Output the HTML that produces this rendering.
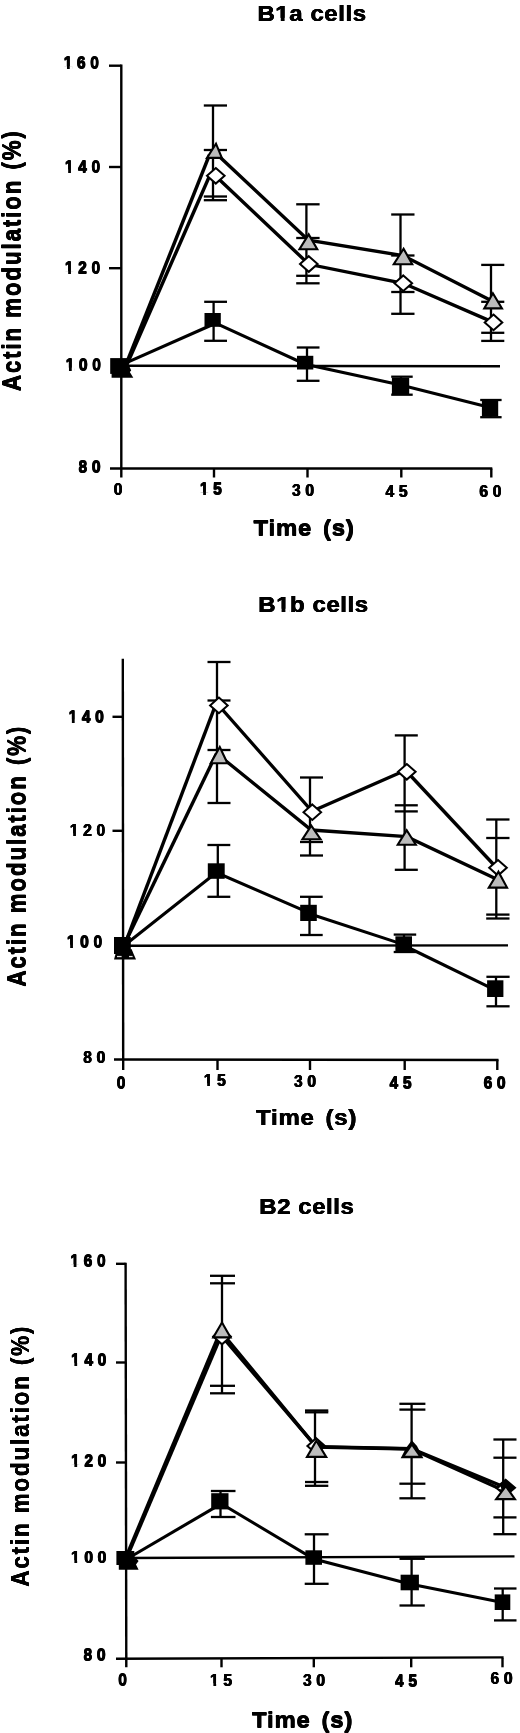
<!DOCTYPE html>
<html><head><meta charset="utf-8"><title>Actin modulation</title>
<style>
html,body{margin:0;padding:0;background:#fff;}
body{width:520px;height:1733px;overflow:hidden;}
svg{display:block;}
svg text{font-family:"Liberation Sans",sans-serif;font-weight:bold;fill:#000;}
</style></head>
<body>
<svg width="520" height="1733" viewBox="0 0 520 1733">
<defs><filter id="soft" x="0" y="0" width="520" height="1733" filterUnits="userSpaceOnUse"><feGaussianBlur stdDeviation="0.5"/></filter></defs>
<rect width="520" height="1733" fill="#fff"/>
<g filter="url(#soft)">
<text transform="translate(257.24,20.84) scale(1,0.91)" font-size="24" dx="0 0.55 0.55 0.55 0.55 0.55 0.55 0.55 0.55">B1a cells</text>
<text transform="translate(257.76,20.84) scale(1,0.91)" font-size="24" dx="0 0.55 0.55 0.55 0.55 0.55 0.55 0.55 0.55">B1a cells</text>
<text transform="translate(257.24,21.36) scale(1,0.91)" font-size="24" dx="0 0.55 0.55 0.55 0.55 0.55 0.55 0.55 0.55">B1a cells</text>
<text transform="translate(257.76,21.36) scale(1,0.91)" font-size="24" dx="0 0.55 0.55 0.55 0.55 0.55 0.55 0.55 0.55">B1a cells</text>
<rect x="276.03" y="17.91" width="4.74" height="4.15" fill="#fff"/>
<rect x="284.60" y="17.91" width="4.39" height="4.15" fill="#fff"/>
<text transform="translate(20.46,391.06) rotate(-90) scale(1,1.17)" font-size="22.5" dx="0 1.8 1.8 1.8 1.8 1.8 1.8 1.8 1.8 1.8 1.8 1.8 1.8 1.8 1.8 1.8 1.8 2.8 1.8 1.8">Actin modulation (%)</text>
<text transform="translate(20.74,391.06) rotate(-90) scale(1,1.17)" font-size="22.5" dx="0 1.8 1.8 1.8 1.8 1.8 1.8 1.8 1.8 1.8 1.8 1.8 1.8 1.8 1.8 1.8 1.8 2.8 1.8 1.8">Actin modulation (%)</text>
<text transform="translate(20.46,391.34) rotate(-90) scale(1,1.17)" font-size="22.5" dx="0 1.8 1.8 1.8 1.8 1.8 1.8 1.8 1.8 1.8 1.8 1.8 1.8 1.8 1.8 1.8 1.8 2.8 1.8 1.8">Actin modulation (%)</text>
<text transform="translate(20.74,391.34) rotate(-90) scale(1,1.17)" font-size="22.5" dx="0 1.8 1.8 1.8 1.8 1.8 1.8 1.8 1.8 1.8 1.8 1.8 1.8 1.8 1.8 1.8 1.8 2.8 1.8 1.8">Actin modulation (%)</text>
<text transform="translate(253.24,535.24) scale(1,0.91)" font-size="24" dx="0 0.78 0.78 0.78 0.78 4.08 0.78 0.78">Time (s)</text>
<text transform="translate(253.76,535.24) scale(1,0.91)" font-size="24" dx="0 0.78 0.78 0.78 0.78 4.08 0.78 0.78">Time (s)</text>
<text transform="translate(253.24,535.76) scale(1,0.91)" font-size="24" dx="0 0.78 0.78 0.78 0.78 4.08 0.78 0.78">Time (s)</text>
<text transform="translate(253.76,535.76) scale(1,0.91)" font-size="24" dx="0 0.78 0.78 0.78 0.78 4.08 0.78 0.78">Time (s)</text>
<line x1="121.3" y1="64.6" x2="121.3" y2="477.5" stroke="#000" stroke-width="2.4" />
<line x1="110" y1="468.5" x2="492.3" y2="468.5" stroke="#000" stroke-width="2.4" />
<line x1="109" y1="65.7" x2="121.3" y2="65.7" stroke="#000" stroke-width="2.4" />
<line x1="109" y1="167" x2="121.3" y2="167" stroke="#000" stroke-width="2.4" />
<line x1="109" y1="268.2" x2="121.3" y2="268.2" stroke="#000" stroke-width="2.4" />
<line x1="214" y1="468.5" x2="214" y2="477.5" stroke="#000" stroke-width="2.4" />
<line x1="307.5" y1="468.5" x2="307.5" y2="477.5" stroke="#000" stroke-width="2.4" />
<line x1="401.3" y1="468.5" x2="401.3" y2="477.5" stroke="#000" stroke-width="2.4" />
<line x1="491.3" y1="468.5" x2="491.3" y2="477.5" stroke="#000" stroke-width="2.4" />
<line x1="121.3" y1="365.8" x2="500" y2="366.3" stroke="#000" stroke-width="2.4" />
<text transform="translate(63.28,68.38) scale(1,1.0)" font-size="15.6" dx="0 4.65 4.65">160</text>
<text transform="translate(63.92,68.38) scale(1,1.0)" font-size="15.6" dx="0 4.65 4.65">160</text>
<text transform="translate(63.28,69.02) scale(1,1.0)" font-size="15.6" dx="0 4.65 4.65">160</text>
<text transform="translate(63.92,69.02) scale(1,1.0)" font-size="15.6" dx="0 4.65 4.65">160</text>
<rect x="63.66" y="66.09" width="3.31" height="3.63" fill="#fff"/>
<rect x="69.76" y="66.09" width="3.06" height="3.63" fill="#fff"/>
<text transform="translate(64.48,171.88) scale(1,1.0)" font-size="15.6" dx="0 4.65 4.65">140</text>
<text transform="translate(65.12,171.88) scale(1,1.0)" font-size="15.6" dx="0 4.65 4.65">140</text>
<text transform="translate(64.48,172.52) scale(1,1.0)" font-size="15.6" dx="0 4.65 4.65">140</text>
<text transform="translate(65.12,172.52) scale(1,1.0)" font-size="15.6" dx="0 4.65 4.65">140</text>
<rect x="64.86" y="169.59" width="3.31" height="3.63" fill="#fff"/>
<rect x="70.96" y="169.59" width="3.06" height="3.63" fill="#fff"/>
<text transform="translate(64.48,273.38) scale(1,1.0)" font-size="15.6" dx="0 4.65 4.65">120</text>
<text transform="translate(65.12,273.38) scale(1,1.0)" font-size="15.6" dx="0 4.65 4.65">120</text>
<text transform="translate(64.48,274.02) scale(1,1.0)" font-size="15.6" dx="0 4.65 4.65">120</text>
<text transform="translate(65.12,274.02) scale(1,1.0)" font-size="15.6" dx="0 4.65 4.65">120</text>
<rect x="64.86" y="271.09" width="3.31" height="3.63" fill="#fff"/>
<rect x="70.96" y="271.09" width="3.06" height="3.63" fill="#fff"/>
<text transform="translate(65.28,369.98) scale(1,1.0)" font-size="15.6" dx="0 4.65 4.65">100</text>
<text transform="translate(65.92,369.98) scale(1,1.0)" font-size="15.6" dx="0 4.65 4.65">100</text>
<text transform="translate(65.28,370.62) scale(1,1.0)" font-size="15.6" dx="0 4.65 4.65">100</text>
<text transform="translate(65.92,370.62) scale(1,1.0)" font-size="15.6" dx="0 4.65 4.65">100</text>
<rect x="65.66" y="367.69" width="3.31" height="3.63" fill="#fff"/>
<rect x="71.76" y="367.69" width="3.06" height="3.63" fill="#fff"/>
<text transform="translate(78.18,472.08) scale(1,1.0)" font-size="15.6" dx="0 4.65">80</text>
<text transform="translate(78.82,472.08) scale(1,1.0)" font-size="15.6" dx="0 4.65">80</text>
<text transform="translate(78.18,472.72) scale(1,1.0)" font-size="15.6" dx="0 4.65">80</text>
<text transform="translate(78.82,472.72) scale(1,1.0)" font-size="15.6" dx="0 4.65">80</text>
<text transform="translate(113.38,494.68) scale(1,1.0)" font-size="15.6" dx="0">0</text>
<text transform="translate(114.02,494.68) scale(1,1.0)" font-size="15.6" dx="0">0</text>
<text transform="translate(113.38,495.32) scale(1,1.0)" font-size="15.6" dx="0">0</text>
<text transform="translate(114.02,495.32) scale(1,1.0)" font-size="15.6" dx="0">0</text>
<text transform="translate(199.48,494.48) scale(1,1.0)" font-size="15.6" dx="0 4.65">15</text>
<text transform="translate(200.12,494.48) scale(1,1.0)" font-size="15.6" dx="0 4.65">15</text>
<text transform="translate(199.48,495.12) scale(1,1.0)" font-size="15.6" dx="0 4.65">15</text>
<text transform="translate(200.12,495.12) scale(1,1.0)" font-size="15.6" dx="0 4.65">15</text>
<rect x="199.86" y="492.19" width="3.31" height="3.63" fill="#fff"/>
<rect x="205.96" y="492.19" width="3.06" height="3.63" fill="#fff"/>
<text transform="translate(291.68,495.68) scale(1,1.0)" font-size="15.6" dx="0 4.65">30</text>
<text transform="translate(292.32,495.68) scale(1,1.0)" font-size="15.6" dx="0 4.65">30</text>
<text transform="translate(291.68,496.32) scale(1,1.0)" font-size="15.6" dx="0 4.65">30</text>
<text transform="translate(292.32,496.32) scale(1,1.0)" font-size="15.6" dx="0 4.65">30</text>
<text transform="translate(385.18,496.58) scale(1,1.0)" font-size="15.6" dx="0 4.65">45</text>
<text transform="translate(385.82,496.58) scale(1,1.0)" font-size="15.6" dx="0 4.65">45</text>
<text transform="translate(385.18,497.22) scale(1,1.0)" font-size="15.6" dx="0 4.65">45</text>
<text transform="translate(385.82,497.22) scale(1,1.0)" font-size="15.6" dx="0 4.65">45</text>
<text transform="translate(479.08,496.58) scale(1,1.0)" font-size="15.6" dx="0 4.65">60</text>
<text transform="translate(479.72,496.58) scale(1,1.0)" font-size="15.6" dx="0 4.65">60</text>
<text transform="translate(479.08,497.22) scale(1,1.0)" font-size="15.6" dx="0 4.65">60</text>
<text transform="translate(479.72,497.22) scale(1,1.0)" font-size="15.6" dx="0 4.65">60</text>
<line x1="213" y1="105.5" x2="213" y2="200.2" stroke="#000" stroke-width="2.3" />
<line x1="203.8" y1="105.5" x2="227" y2="105.5" stroke="#000" stroke-width="2.3" />
<line x1="203.8" y1="150" x2="227" y2="150" stroke="#000" stroke-width="2.3" />
<line x1="203.8" y1="196.5" x2="227" y2="196.5" stroke="#000" stroke-width="2.3" />
<line x1="203.8" y1="200.2" x2="227" y2="200.2" stroke="#000" stroke-width="2.3" />
<line x1="306.4" y1="204.3" x2="306.4" y2="283.3" stroke="#000" stroke-width="2.3" />
<line x1="296.2" y1="204.3" x2="319.6" y2="204.3" stroke="#000" stroke-width="2.3" />
<line x1="296.2" y1="238" x2="319.6" y2="238" stroke="#000" stroke-width="2.3" />
<line x1="296.2" y1="275.8" x2="319.6" y2="275.8" stroke="#000" stroke-width="2.3" />
<line x1="296.2" y1="283.3" x2="319.6" y2="283.3" stroke="#000" stroke-width="2.3" />
<line x1="400.5" y1="214.5" x2="400.5" y2="313.8" stroke="#000" stroke-width="2.3" />
<line x1="391.2" y1="214.5" x2="414.5" y2="214.5" stroke="#000" stroke-width="2.3" />
<line x1="391.2" y1="255.5" x2="414.5" y2="255.5" stroke="#000" stroke-width="2.3" />
<line x1="391.2" y1="292" x2="414.5" y2="292" stroke="#000" stroke-width="2.3" />
<line x1="391.2" y1="313.8" x2="414.5" y2="313.8" stroke="#000" stroke-width="2.3" />
<line x1="491" y1="264.9" x2="491" y2="340.9" stroke="#000" stroke-width="2.3" />
<line x1="481.2" y1="264.9" x2="504.3" y2="264.9" stroke="#000" stroke-width="2.3" />
<line x1="481.2" y1="301.8" x2="504.3" y2="301.8" stroke="#000" stroke-width="2.3" />
<line x1="481.2" y1="332.8" x2="504.3" y2="332.8" stroke="#000" stroke-width="2.3" />
<line x1="481.2" y1="340.9" x2="504.3" y2="340.9" stroke="#000" stroke-width="2.3" />
<line x1="213.6" y1="301.8" x2="213.6" y2="340.8" stroke="#000" stroke-width="2.3" />
<line x1="204.2" y1="301.8" x2="227" y2="301.8" stroke="#000" stroke-width="2.3" />
<line x1="204.2" y1="340.8" x2="227" y2="340.8" stroke="#000" stroke-width="2.3" />
<line x1="307" y1="347.5" x2="307" y2="380.8" stroke="#000" stroke-width="2.3" />
<line x1="296.8" y1="347.5" x2="319.5" y2="347.5" stroke="#000" stroke-width="2.3" />
<line x1="296.8" y1="380.8" x2="319.5" y2="380.8" stroke="#000" stroke-width="2.3" />
<line x1="401" y1="376.7" x2="401" y2="394.7" stroke="#000" stroke-width="2.3" />
<line x1="391.2" y1="376.7" x2="412.7" y2="376.7" stroke="#000" stroke-width="2.3" />
<line x1="391.2" y1="394.7" x2="412.7" y2="394.7" stroke="#000" stroke-width="2.3" />
<line x1="490.5" y1="400" x2="490.5" y2="417.2" stroke="#000" stroke-width="2.3" />
<line x1="480.2" y1="400" x2="501.6" y2="400" stroke="#000" stroke-width="2.3" />
<line x1="480.2" y1="417.2" x2="501.6" y2="417.2" stroke="#000" stroke-width="2.3" />
<polyline points="125.4,366 209.4,155" fill="none" stroke="#000" stroke-width="3.4" stroke-linejoin="miter"/>
<polyline points="126.3,366 209.6,175.8" fill="none" stroke="#000" stroke-width="3.4" stroke-linejoin="miter"/>
<polyline points="121.5,364.8 212.8,324.5" fill="none" stroke="#000" stroke-width="3.1" stroke-linejoin="miter"/>
<polyline points="212.8,321.8 305.2,364.2 400.7,385 490.2,407.6" fill="none" stroke="#000" stroke-width="3.1" stroke-linejoin="miter"/>
<polyline points="215.3,175.8 308.8,264.3 403.3,283.3 493.5,322.4" fill="none" stroke="#000" stroke-width="3.4" stroke-linejoin="miter"/>
<polyline points="214.5,152 308.4,240.2 403,255.6 493,301.5" fill="none" stroke="#000" stroke-width="3.4" stroke-linejoin="miter"/>
<rect x="110.2" y="358.1" width="18.200000000000003" height="15.799999999999955" fill="#000"/>
<polygon points="111.6,373 129.2,366 131.2,370.5 129.8,372 133.3,377.8 111.6,377.8" fill="#000"/>
<rect x="204.5" y="313" width="16.30000000000001" height="13.800000000000011" fill="#000"/>
<rect x="297" y="355.8" width="16.30000000000001" height="13.699999999999989" fill="#000"/>
<rect x="391.9" y="377.8" width="17.30000000000001" height="16.19999999999999" fill="#000"/>
<rect x="481.9" y="401" width="16.30000000000001" height="15.5" fill="#000"/>
<polygon points="215.8,168.0 224.60000000000002,175.8 215.8,183.60000000000002 207.0,175.8" fill="#fff" stroke="#000" stroke-width="2" stroke-linejoin="miter"/>
<polygon points="308.8,256.2 317.6,264 308.8,271.8 300.0,264" fill="#fff" stroke="#000" stroke-width="2" stroke-linejoin="miter"/>
<polygon points="403.3,275.4 412.1,283.2 403.3,291.0 394.5,283.2" fill="#fff" stroke="#000" stroke-width="2" stroke-linejoin="miter"/>
<polygon points="493.5,314.59999999999997 502.3,322.4 493.5,330.2 484.7,322.4" fill="#fff" stroke="#000" stroke-width="2" stroke-linejoin="miter"/>
<polygon points="216,143.7 206.95,157.9 221.85,157.9" fill="#bcbcbc" stroke="#000" stroke-width="2.1" stroke-linejoin="miter"/>
<polygon points="308.7,234.39999999999998 299.45,249.20000000000002 317.25,249.20000000000002" fill="#bcbcbc" stroke="#000" stroke-width="2.1" stroke-linejoin="miter"/>
<polygon points="403.6,248.7 393.75,264.2 412.25,264.2" fill="#bcbcbc" stroke="#000" stroke-width="2.1" stroke-linejoin="miter"/>
<polygon points="492.9,293.3 484.25,308.4 501.95,308.4" fill="#bcbcbc" stroke="#000" stroke-width="2.1" stroke-linejoin="miter"/>
<text transform="translate(258.04,611.74) scale(1,0.91)" font-size="24" dx="0 0.55 0.55 0.55 0.55 0.55 0.55 0.55 0.55">B1b cells</text>
<text transform="translate(258.56,611.74) scale(1,0.91)" font-size="24" dx="0 0.55 0.55 0.55 0.55 0.55 0.55 0.55 0.55">B1b cells</text>
<text transform="translate(258.04,612.26) scale(1,0.91)" font-size="24" dx="0 0.55 0.55 0.55 0.55 0.55 0.55 0.55 0.55">B1b cells</text>
<text transform="translate(258.56,612.26) scale(1,0.91)" font-size="24" dx="0 0.55 0.55 0.55 0.55 0.55 0.55 0.55 0.55">B1b cells</text>
<rect x="276.83" y="608.81" width="4.74" height="4.15" fill="#fff"/>
<rect x="285.40" y="608.81" width="4.39" height="4.15" fill="#fff"/>
<text transform="translate(25.46,986.56) rotate(-90) scale(1,1.17)" font-size="22.5" dx="0 1.8 1.8 1.8 1.8 1.8 1.8 1.8 1.8 1.8 1.8 1.8 1.8 1.8 1.8 1.8 1.8 2.8 1.8 1.8">Actin modulation (%)</text>
<text transform="translate(25.74,986.56) rotate(-90) scale(1,1.17)" font-size="22.5" dx="0 1.8 1.8 1.8 1.8 1.8 1.8 1.8 1.8 1.8 1.8 1.8 1.8 1.8 1.8 1.8 1.8 2.8 1.8 1.8">Actin modulation (%)</text>
<text transform="translate(25.46,986.84) rotate(-90) scale(1,1.17)" font-size="22.5" dx="0 1.8 1.8 1.8 1.8 1.8 1.8 1.8 1.8 1.8 1.8 1.8 1.8 1.8 1.8 1.8 1.8 2.8 1.8 1.8">Actin modulation (%)</text>
<text transform="translate(25.74,986.84) rotate(-90) scale(1,1.17)" font-size="22.5" dx="0 1.8 1.8 1.8 1.8 1.8 1.8 1.8 1.8 1.8 1.8 1.8 1.8 1.8 1.8 1.8 1.8 2.8 1.8 1.8">Actin modulation (%)</text>
<text transform="translate(255.74,1124.74) scale(1,0.91)" font-size="24" dx="0 0.78 0.78 0.78 0.78 4.08 0.78 0.78">Time (s)</text>
<text transform="translate(256.26,1124.74) scale(1,0.91)" font-size="24" dx="0 0.78 0.78 0.78 0.78 4.08 0.78 0.78">Time (s)</text>
<text transform="translate(255.74,1125.26) scale(1,0.91)" font-size="24" dx="0 0.78 0.78 0.78 0.78 4.08 0.78 0.78">Time (s)</text>
<text transform="translate(256.26,1125.26) scale(1,0.91)" font-size="24" dx="0 0.78 0.78 0.78 0.78 4.08 0.78 0.78">Time (s)</text>
<line x1="122.8" y1="658.8" x2="123.2" y2="1070" stroke="#000" stroke-width="2.4" />
<line x1="114" y1="1059.5" x2="498.5" y2="1060" stroke="#000" stroke-width="2.4" />
<line x1="112.5" y1="716.8" x2="122.8" y2="716.8" stroke="#000" stroke-width="2.4" />
<line x1="112.5" y1="830.8" x2="122.8" y2="830.8" stroke="#000" stroke-width="2.4" />
<line x1="217.5" y1="1059.7" x2="217.5" y2="1070" stroke="#000" stroke-width="2.4" />
<line x1="310" y1="1059.7" x2="310" y2="1070" stroke="#000" stroke-width="2.4" />
<line x1="404.7" y1="1059.7" x2="404.7" y2="1070" stroke="#000" stroke-width="2.4" />
<line x1="497.3" y1="1059.7" x2="497.3" y2="1070" stroke="#000" stroke-width="2.4" />
<line x1="122.8" y1="945.8" x2="508" y2="945.4" stroke="#000" stroke-width="2.4" />
<text transform="translate(68.18,721.98) scale(1,1.0)" font-size="15.6" dx="0 4.65 4.65">140</text>
<text transform="translate(68.82,721.98) scale(1,1.0)" font-size="15.6" dx="0 4.65 4.65">140</text>
<text transform="translate(68.18,722.62) scale(1,1.0)" font-size="15.6" dx="0 4.65 4.65">140</text>
<text transform="translate(68.82,722.62) scale(1,1.0)" font-size="15.6" dx="0 4.65 4.65">140</text>
<rect x="68.56" y="719.69" width="3.31" height="3.63" fill="#fff"/>
<rect x="74.66" y="719.69" width="3.06" height="3.63" fill="#fff"/>
<text transform="translate(69.48,835.68) scale(1,1.0)" font-size="15.6" dx="0 4.65 4.65">120</text>
<text transform="translate(70.12,835.68) scale(1,1.0)" font-size="15.6" dx="0 4.65 4.65">120</text>
<text transform="translate(69.48,836.32) scale(1,1.0)" font-size="15.6" dx="0 4.65 4.65">120</text>
<text transform="translate(70.12,836.32) scale(1,1.0)" font-size="15.6" dx="0 4.65 4.65">120</text>
<rect x="69.86" y="833.39" width="3.31" height="3.63" fill="#fff"/>
<rect x="75.96" y="833.39" width="3.06" height="3.63" fill="#fff"/>
<text transform="translate(66.48,946.98) scale(1,1.0)" font-size="15.6" dx="0 4.65 4.65">100</text>
<text transform="translate(67.12,946.98) scale(1,1.0)" font-size="15.6" dx="0 4.65 4.65">100</text>
<text transform="translate(66.48,947.62) scale(1,1.0)" font-size="15.6" dx="0 4.65 4.65">100</text>
<text transform="translate(67.12,947.62) scale(1,1.0)" font-size="15.6" dx="0 4.65 4.65">100</text>
<rect x="66.86" y="944.69" width="3.31" height="3.63" fill="#fff"/>
<rect x="72.96" y="944.69" width="3.06" height="3.63" fill="#fff"/>
<text transform="translate(82.98,1062.68) scale(1,1.0)" font-size="15.6" dx="0 4.65">80</text>
<text transform="translate(83.62,1062.68) scale(1,1.0)" font-size="15.6" dx="0 4.65">80</text>
<text transform="translate(82.98,1063.32) scale(1,1.0)" font-size="15.6" dx="0 4.65">80</text>
<text transform="translate(83.62,1063.32) scale(1,1.0)" font-size="15.6" dx="0 4.65">80</text>
<text transform="translate(116.38,1088.28) scale(1,1.0)" font-size="15.6" dx="0">0</text>
<text transform="translate(117.02,1088.28) scale(1,1.0)" font-size="15.6" dx="0">0</text>
<text transform="translate(116.38,1088.92) scale(1,1.0)" font-size="15.6" dx="0">0</text>
<text transform="translate(117.02,1088.92) scale(1,1.0)" font-size="15.6" dx="0">0</text>
<text transform="translate(203.48,1085.68) scale(1,1.0)" font-size="15.6" dx="0 4.65">15</text>
<text transform="translate(204.12,1085.68) scale(1,1.0)" font-size="15.6" dx="0 4.65">15</text>
<text transform="translate(203.48,1086.32) scale(1,1.0)" font-size="15.6" dx="0 4.65">15</text>
<text transform="translate(204.12,1086.32) scale(1,1.0)" font-size="15.6" dx="0 4.65">15</text>
<rect x="203.86" y="1083.39" width="3.31" height="3.63" fill="#fff"/>
<rect x="209.96" y="1083.39" width="3.06" height="3.63" fill="#fff"/>
<text transform="translate(293.68,1086.68) scale(1,1.0)" font-size="15.6" dx="0 4.65">30</text>
<text transform="translate(294.32,1086.68) scale(1,1.0)" font-size="15.6" dx="0 4.65">30</text>
<text transform="translate(293.68,1087.32) scale(1,1.0)" font-size="15.6" dx="0 4.65">30</text>
<text transform="translate(294.32,1087.32) scale(1,1.0)" font-size="15.6" dx="0 4.65">30</text>
<text transform="translate(389.18,1088.18) scale(1,1.0)" font-size="15.6" dx="0 4.65">45</text>
<text transform="translate(389.82,1088.18) scale(1,1.0)" font-size="15.6" dx="0 4.65">45</text>
<text transform="translate(389.18,1088.82) scale(1,1.0)" font-size="15.6" dx="0 4.65">45</text>
<text transform="translate(389.82,1088.82) scale(1,1.0)" font-size="15.6" dx="0 4.65">45</text>
<text transform="translate(483.28,1088.18) scale(1,1.0)" font-size="15.6" dx="0 4.65">60</text>
<text transform="translate(483.92,1088.18) scale(1,1.0)" font-size="15.6" dx="0 4.65">60</text>
<text transform="translate(483.28,1088.82) scale(1,1.0)" font-size="15.6" dx="0 4.65">60</text>
<text transform="translate(483.92,1088.82) scale(1,1.0)" font-size="15.6" dx="0 4.65">60</text>
<line x1="217" y1="662" x2="217" y2="803" stroke="#000" stroke-width="2.3" />
<line x1="207.5" y1="662" x2="230.5" y2="662" stroke="#000" stroke-width="2.3" />
<line x1="207.5" y1="700.5" x2="230.5" y2="700.5" stroke="#000" stroke-width="2.3" />
<line x1="207.5" y1="750" x2="230.5" y2="750" stroke="#000" stroke-width="2.3" />
<line x1="207.5" y1="803" x2="230.5" y2="803" stroke="#000" stroke-width="2.3" />
<line x1="310" y1="777.5" x2="310" y2="855.5" stroke="#000" stroke-width="2.3" />
<line x1="300" y1="777.5" x2="323" y2="777.5" stroke="#000" stroke-width="2.3" />
<line x1="300" y1="842" x2="323" y2="842" stroke="#000" stroke-width="2.3" />
<line x1="300" y1="855.5" x2="323" y2="855.5" stroke="#000" stroke-width="2.3" />
<line x1="404.6" y1="735.4" x2="404.6" y2="869.8" stroke="#000" stroke-width="2.3" />
<line x1="394.8" y1="735.4" x2="417.8" y2="735.4" stroke="#000" stroke-width="2.3" />
<line x1="394.8" y1="805.3" x2="417.8" y2="805.3" stroke="#000" stroke-width="2.3" />
<line x1="394.8" y1="811.4" x2="417.8" y2="811.4" stroke="#000" stroke-width="2.3" />
<line x1="394.8" y1="869.8" x2="417.8" y2="869.8" stroke="#000" stroke-width="2.3" />
<line x1="496.3" y1="819.5" x2="496.3" y2="918.5" stroke="#000" stroke-width="2.3" />
<line x1="486.2" y1="819.5" x2="509.5" y2="819.5" stroke="#000" stroke-width="2.3" />
<line x1="486.2" y1="838" x2="509.5" y2="838" stroke="#000" stroke-width="2.3" />
<line x1="486.2" y1="914.6" x2="509.5" y2="914.6" stroke="#000" stroke-width="2.3" />
<line x1="486.2" y1="918.5" x2="509.5" y2="918.5" stroke="#000" stroke-width="2.3" />
<line x1="217.8" y1="845" x2="217.8" y2="896.8" stroke="#000" stroke-width="2.3" />
<line x1="207.4" y1="845" x2="230.3" y2="845" stroke="#000" stroke-width="2.3" />
<line x1="207.4" y1="896.8" x2="230.3" y2="896.8" stroke="#000" stroke-width="2.3" />
<line x1="309.5" y1="896.8" x2="309.5" y2="935" stroke="#000" stroke-width="2.3" />
<line x1="300" y1="896.8" x2="322.7" y2="896.8" stroke="#000" stroke-width="2.3" />
<line x1="300" y1="935" x2="322.7" y2="935" stroke="#000" stroke-width="2.3" />
<line x1="404" y1="934.6" x2="404" y2="952" stroke="#000" stroke-width="2.3" />
<line x1="393.7" y1="934.6" x2="416.2" y2="934.6" stroke="#000" stroke-width="2.3" />
<line x1="393.7" y1="952" x2="416.2" y2="952" stroke="#000" stroke-width="2.3" />
<line x1="496" y1="976.8" x2="496" y2="1006.3" stroke="#000" stroke-width="2.3" />
<line x1="486.4" y1="976.8" x2="509.6" y2="976.8" stroke="#000" stroke-width="2.3" />
<line x1="486.4" y1="1006.3" x2="509.6" y2="1006.3" stroke="#000" stroke-width="2.3" />
<polyline points="124.3,945.8 215,706.3" fill="none" stroke="#000" stroke-width="3.4" stroke-linejoin="miter"/>
<polyline points="406.7,771.5 498.2,869.5" fill="none" stroke="#000" stroke-width="3.4" stroke-linejoin="miter"/>
<polyline points="123.7,945.8 216.5,753.6" fill="none" stroke="#000" stroke-width="3.4" stroke-linejoin="miter"/>
<polyline points="308.7,913.5 403.9,944.6" fill="none" stroke="#000" stroke-width="3.1" stroke-linejoin="miter"/>
<polyline points="403.9,945.5 495.4,990.1" fill="none" stroke="#000" stroke-width="3.1" stroke-linejoin="miter"/>
<polyline points="123,946.5 216.4,872.6 308.7,912.6" fill="none" stroke="#000" stroke-width="3.1" stroke-linejoin="miter"/>
<polyline points="218.8,705.5 312,811.3 406.7,769.8" fill="none" stroke="#000" stroke-width="3.4" stroke-linejoin="miter"/>
<polyline points="219.2,755.5 311.3,830 406.7,836.6 498.5,880" fill="none" stroke="#000" stroke-width="3.4" stroke-linejoin="miter"/>
<rect x="114" y="937" width="16.80000000000001" height="17" fill="#000"/>
<polygon points="115.8,953 131.5,949 136,959.6 114,959.6" fill="#000"/>
<rect x="117" y="955.9" width="4.6" height="1.3" fill="#ddd"/><rect x="129" y="955.9" width="3.6" height="1.3" fill="#ddd"/>
<rect x="207.8" y="863.3" width="16.899999999999977" height="15.5" fill="#000"/>
<rect x="300.2" y="904.8" width="16.600000000000023" height="16.200000000000045" fill="#000"/>
<rect x="395.4" y="936.3" width="16.600000000000023" height="15.700000000000045" fill="#000"/>
<rect x="487.1" y="980.3" width="16.299999999999955" height="16.700000000000045" fill="#000"/>
<polygon points="218.9,697.6 227.70000000000002,705.4 218.9,713.1999999999999 210.1,705.4" fill="#fff" stroke="#000" stroke-width="2" stroke-linejoin="miter"/>
<polygon points="312.3,804.4000000000001 321.1,812.2 312.3,820.0 303.5,812.2" fill="#fff" stroke="#000" stroke-width="2" stroke-linejoin="miter"/>
<polygon points="406.8,764.0 415.6,771.8 406.8,779.5999999999999 398.0,771.8" fill="#fff" stroke="#000" stroke-width="2" stroke-linejoin="miter"/>
<polygon points="498,860.0 506.8,867.8 498,875.5999999999999 489.2,867.8" fill="#fff" stroke="#000" stroke-width="2" stroke-linejoin="miter"/>
<polygon points="219.8,747.0 210.75,763.1999999999999 227.45,763.1999999999999" fill="#bcbcbc" stroke="#000" stroke-width="2.1" stroke-linejoin="miter"/>
<polygon points="311.3,825.7 302.45,839.1999999999999 320.55,839.1999999999999" fill="#bcbcbc" stroke="#000" stroke-width="2.1" stroke-linejoin="miter"/>
<polygon points="406.7,830.3000000000001 397.75,844.6999999999999 415.85,844.6999999999999" fill="#bcbcbc" stroke="#000" stroke-width="2.1" stroke-linejoin="miter"/>
<polygon points="498.4,871.7 488.75,887.6 507.05,887.6" fill="#bcbcbc" stroke="#000" stroke-width="2.1" stroke-linejoin="miter"/>
<text transform="translate(259.04,1213.64) scale(1,0.91)" font-size="24" dx="0 0.55 0.55 0.55 0.55 0.55 0.55 0.55">B2 cells</text>
<text transform="translate(259.56,1213.64) scale(1,0.91)" font-size="24" dx="0 0.55 0.55 0.55 0.55 0.55 0.55 0.55">B2 cells</text>
<text transform="translate(259.04,1214.16) scale(1,0.91)" font-size="24" dx="0 0.55 0.55 0.55 0.55 0.55 0.55 0.55">B2 cells</text>
<text transform="translate(259.56,1214.16) scale(1,0.91)" font-size="24" dx="0 0.55 0.55 0.55 0.55 0.55 0.55 0.55">B2 cells</text>
<text transform="translate(28.76,1586.56) rotate(-90) scale(1,1.17)" font-size="22.5" dx="0 1.8 1.8 1.8 1.8 1.8 1.8 1.8 1.8 1.8 1.8 1.8 1.8 1.8 1.8 1.8 1.8 2.8 1.8 1.8">Actin modulation (%)</text>
<text transform="translate(29.04,1586.56) rotate(-90) scale(1,1.17)" font-size="22.5" dx="0 1.8 1.8 1.8 1.8 1.8 1.8 1.8 1.8 1.8 1.8 1.8 1.8 1.8 1.8 1.8 1.8 2.8 1.8 1.8">Actin modulation (%)</text>
<text transform="translate(28.76,1586.84) rotate(-90) scale(1,1.17)" font-size="22.5" dx="0 1.8 1.8 1.8 1.8 1.8 1.8 1.8 1.8 1.8 1.8 1.8 1.8 1.8 1.8 1.8 1.8 2.8 1.8 1.8">Actin modulation (%)</text>
<text transform="translate(29.04,1586.84) rotate(-90) scale(1,1.17)" font-size="22.5" dx="0 1.8 1.8 1.8 1.8 1.8 1.8 1.8 1.8 1.8 1.8 1.8 1.8 1.8 1.8 1.8 1.8 2.8 1.8 1.8">Actin modulation (%)</text>
<text transform="translate(251.74,1727.34) scale(1,0.91)" font-size="24" dx="0 0.78 0.78 0.78 0.78 4.08 0.78 0.78">Time (s)</text>
<text transform="translate(252.26,1727.34) scale(1,0.91)" font-size="24" dx="0 0.78 0.78 0.78 0.78 4.08 0.78 0.78">Time (s)</text>
<text transform="translate(251.74,1727.86) scale(1,0.91)" font-size="24" dx="0 0.78 0.78 0.78 0.78 4.08 0.78 0.78">Time (s)</text>
<text transform="translate(252.26,1727.86) scale(1,0.91)" font-size="24" dx="0 0.78 0.78 0.78 0.78 4.08 0.78 0.78">Time (s)</text>
<line x1="125.6" y1="1262.7" x2="126.3" y2="1667.3" stroke="#000" stroke-width="2.4" />
<line x1="116" y1="1658.8" x2="503.6" y2="1657.4" stroke="#000" stroke-width="2.4" />
<line x1="116" y1="1263.8" x2="125.6" y2="1263.8" stroke="#000" stroke-width="2.4" />
<line x1="116" y1="1362.5" x2="125.6" y2="1362.5" stroke="#000" stroke-width="2.4" />
<line x1="116" y1="1462.5" x2="125.6" y2="1462.5" stroke="#000" stroke-width="2.4" />
<line x1="221.5" y1="1658" x2="221.5" y2="1667.3" stroke="#000" stroke-width="2.4" />
<line x1="313.8" y1="1658" x2="313.8" y2="1667.3" stroke="#000" stroke-width="2.4" />
<line x1="411.2" y1="1658" x2="411.2" y2="1667.3" stroke="#000" stroke-width="2.4" />
<line x1="502.5" y1="1658" x2="502.5" y2="1667.3" stroke="#000" stroke-width="2.4" />
<line x1="125.6" y1="1558" x2="514.5" y2="1556.4" stroke="#000" stroke-width="2.4" />
<text transform="translate(69.98,1266.38) scale(1,1.0)" font-size="15.6" dx="0 4.65 4.65">160</text>
<text transform="translate(70.62,1266.38) scale(1,1.0)" font-size="15.6" dx="0 4.65 4.65">160</text>
<text transform="translate(69.98,1267.02) scale(1,1.0)" font-size="15.6" dx="0 4.65 4.65">160</text>
<text transform="translate(70.62,1267.02) scale(1,1.0)" font-size="15.6" dx="0 4.65 4.65">160</text>
<rect x="70.36" y="1264.09" width="3.31" height="3.63" fill="#fff"/>
<rect x="76.46" y="1264.09" width="3.06" height="3.63" fill="#fff"/>
<text transform="translate(70.68,1365.18) scale(1,1.0)" font-size="15.6" dx="0 4.65 4.65">140</text>
<text transform="translate(71.32,1365.18) scale(1,1.0)" font-size="15.6" dx="0 4.65 4.65">140</text>
<text transform="translate(70.68,1365.82) scale(1,1.0)" font-size="15.6" dx="0 4.65 4.65">140</text>
<text transform="translate(71.32,1365.82) scale(1,1.0)" font-size="15.6" dx="0 4.65 4.65">140</text>
<rect x="71.06" y="1362.89" width="3.31" height="3.63" fill="#fff"/>
<rect x="77.16" y="1362.89" width="3.06" height="3.63" fill="#fff"/>
<text transform="translate(70.68,1466.38) scale(1,1.0)" font-size="15.6" dx="0 4.65 4.65">120</text>
<text transform="translate(71.32,1466.38) scale(1,1.0)" font-size="15.6" dx="0 4.65 4.65">120</text>
<text transform="translate(70.68,1467.02) scale(1,1.0)" font-size="15.6" dx="0 4.65 4.65">120</text>
<text transform="translate(71.32,1467.02) scale(1,1.0)" font-size="15.6" dx="0 4.65 4.65">120</text>
<rect x="71.06" y="1464.09" width="3.31" height="3.63" fill="#fff"/>
<rect x="77.16" y="1464.09" width="3.06" height="3.63" fill="#fff"/>
<text transform="translate(70.68,1562.68) scale(1,1.0)" font-size="15.6" dx="0 4.65 4.65">100</text>
<text transform="translate(71.32,1562.68) scale(1,1.0)" font-size="15.6" dx="0 4.65 4.65">100</text>
<text transform="translate(70.68,1563.32) scale(1,1.0)" font-size="15.6" dx="0 4.65 4.65">100</text>
<text transform="translate(71.32,1563.32) scale(1,1.0)" font-size="15.6" dx="0 4.65 4.65">100</text>
<rect x="71.06" y="1560.39" width="3.31" height="3.63" fill="#fff"/>
<rect x="77.16" y="1560.39" width="3.06" height="3.63" fill="#fff"/>
<text transform="translate(83.18,1660.08) scale(1,1.0)" font-size="15.6" dx="0 4.65">80</text>
<text transform="translate(83.82,1660.08) scale(1,1.0)" font-size="15.6" dx="0 4.65">80</text>
<text transform="translate(83.18,1660.72) scale(1,1.0)" font-size="15.6" dx="0 4.65">80</text>
<text transform="translate(83.82,1660.72) scale(1,1.0)" font-size="15.6" dx="0 4.65">80</text>
<text transform="translate(117.98,1685.28) scale(1,1.0)" font-size="15.6" dx="0">0</text>
<text transform="translate(118.62,1685.28) scale(1,1.0)" font-size="15.6" dx="0">0</text>
<text transform="translate(117.98,1685.92) scale(1,1.0)" font-size="15.6" dx="0">0</text>
<text transform="translate(118.62,1685.92) scale(1,1.0)" font-size="15.6" dx="0">0</text>
<text transform="translate(209.68,1685.68) scale(1,1.0)" font-size="15.6" dx="0 4.65">15</text>
<text transform="translate(210.32,1685.68) scale(1,1.0)" font-size="15.6" dx="0 4.65">15</text>
<text transform="translate(209.68,1686.32) scale(1,1.0)" font-size="15.6" dx="0 4.65">15</text>
<text transform="translate(210.32,1686.32) scale(1,1.0)" font-size="15.6" dx="0 4.65">15</text>
<rect x="210.06" y="1683.39" width="3.31" height="3.63" fill="#fff"/>
<rect x="216.16" y="1683.39" width="3.06" height="3.63" fill="#fff"/>
<text transform="translate(302.68,1685.68) scale(1,1.0)" font-size="15.6" dx="0 4.65">30</text>
<text transform="translate(303.32,1685.68) scale(1,1.0)" font-size="15.6" dx="0 4.65">30</text>
<text transform="translate(302.68,1686.32) scale(1,1.0)" font-size="15.6" dx="0 4.65">30</text>
<text transform="translate(303.32,1686.32) scale(1,1.0)" font-size="15.6" dx="0 4.65">30</text>
<text transform="translate(394.68,1686.28) scale(1,1.0)" font-size="15.6" dx="0 4.65">45</text>
<text transform="translate(395.32,1686.28) scale(1,1.0)" font-size="15.6" dx="0 4.65">45</text>
<text transform="translate(394.68,1686.92) scale(1,1.0)" font-size="15.6" dx="0 4.65">45</text>
<text transform="translate(395.32,1686.92) scale(1,1.0)" font-size="15.6" dx="0 4.65">45</text>
<text transform="translate(490.18,1683.68) scale(1,1.0)" font-size="15.6" dx="0 4.65">60</text>
<text transform="translate(490.82,1683.68) scale(1,1.0)" font-size="15.6" dx="0 4.65">60</text>
<text transform="translate(490.18,1684.32) scale(1,1.0)" font-size="15.6" dx="0 4.65">60</text>
<text transform="translate(490.82,1684.32) scale(1,1.0)" font-size="15.6" dx="0 4.65">60</text>
<line x1="222" y1="1275.8" x2="222" y2="1393.3" stroke="#000" stroke-width="2.3" />
<line x1="210" y1="1275.8" x2="235" y2="1275.8" stroke="#000" stroke-width="2.3" />
<line x1="210" y1="1283.3" x2="235" y2="1283.3" stroke="#000" stroke-width="2.3" />
<line x1="210" y1="1385.8" x2="235" y2="1385.8" stroke="#000" stroke-width="2.3" />
<line x1="210" y1="1393.3" x2="235" y2="1393.3" stroke="#000" stroke-width="2.3" />
<line x1="315" y1="1410.5" x2="315" y2="1485.8" stroke="#000" stroke-width="2.3" />
<line x1="305" y1="1410.5" x2="328.3" y2="1410.5" stroke="#000" stroke-width="2.3" />
<line x1="305" y1="1412.3" x2="328.3" y2="1412.3" stroke="#000" stroke-width="2.3" />
<line x1="305" y1="1482" x2="328.3" y2="1482" stroke="#000" stroke-width="2.3" />
<line x1="305" y1="1485.8" x2="328.3" y2="1485.8" stroke="#000" stroke-width="2.3" />
<line x1="411.6" y1="1403.8" x2="411.6" y2="1498.3" stroke="#000" stroke-width="2.3" />
<line x1="399.4" y1="1403.8" x2="425.4" y2="1403.8" stroke="#000" stroke-width="2.3" />
<line x1="399.4" y1="1409.6" x2="425.4" y2="1409.6" stroke="#000" stroke-width="2.3" />
<line x1="399.4" y1="1483.7" x2="425.4" y2="1483.7" stroke="#000" stroke-width="2.3" />
<line x1="399.4" y1="1498.3" x2="425.4" y2="1498.3" stroke="#000" stroke-width="2.3" />
<line x1="503.2" y1="1439.5" x2="503.2" y2="1534.2" stroke="#000" stroke-width="2.3" />
<line x1="493.4" y1="1439.5" x2="516.5" y2="1439.5" stroke="#000" stroke-width="2.3" />
<line x1="493.4" y1="1457.7" x2="516.5" y2="1457.7" stroke="#000" stroke-width="2.3" />
<line x1="493.4" y1="1517.4" x2="516.5" y2="1517.4" stroke="#000" stroke-width="2.3" />
<line x1="493.4" y1="1534.2" x2="516.5" y2="1534.2" stroke="#000" stroke-width="2.3" />
<line x1="220.5" y1="1491" x2="220.5" y2="1517" stroke="#000" stroke-width="2.3" />
<line x1="210.9" y1="1491" x2="235.5" y2="1491" stroke="#000" stroke-width="2.3" />
<line x1="210.9" y1="1517" x2="235.5" y2="1517" stroke="#000" stroke-width="2.3" />
<line x1="314" y1="1534.3" x2="314" y2="1583.8" stroke="#000" stroke-width="2.3" />
<line x1="304.7" y1="1534.3" x2="328.6" y2="1534.3" stroke="#000" stroke-width="2.3" />
<line x1="304.7" y1="1583.8" x2="328.6" y2="1583.8" stroke="#000" stroke-width="2.3" />
<line x1="411.6" y1="1558.8" x2="411.6" y2="1605.5" stroke="#000" stroke-width="2.3" />
<line x1="399.5" y1="1558.8" x2="424.8" y2="1558.8" stroke="#000" stroke-width="2.3" />
<line x1="399.5" y1="1605.5" x2="424.8" y2="1605.5" stroke="#000" stroke-width="2.3" />
<line x1="502.7" y1="1588.5" x2="502.7" y2="1620.4" stroke="#000" stroke-width="2.3" />
<line x1="494" y1="1588.5" x2="516.5" y2="1588.5" stroke="#000" stroke-width="2.3" />
<line x1="494" y1="1620.4" x2="516.5" y2="1620.4" stroke="#000" stroke-width="2.3" />
<polyline points="126.3,1558.6 219.4,1339.5" fill="none" stroke="#000" stroke-width="3.4" stroke-linejoin="miter"/>
<polyline points="125.8,1557.6 220.6,1331" fill="none" stroke="#000" stroke-width="3.4" stroke-linejoin="miter"/>
<polyline points="126,1559.5 220.1,1504.3" fill="none" stroke="#000" stroke-width="3.1" stroke-linejoin="miter"/>
<polyline points="220.1,1503 313.9,1559 409.9,1584 502.7,1602.6" fill="none" stroke="#000" stroke-width="3.1" stroke-linejoin="miter"/>
<polyline points="221.8,1336.2 316,1446.6 411.5,1448.7 505.5,1487.5" fill="none" stroke="#000" stroke-width="3.4" stroke-linejoin="miter"/>
<polyline points="222,1332.8 316.3,1447 411.5,1449 505.8,1491.5" fill="none" stroke="#000" stroke-width="3.4" stroke-linejoin="miter"/>
<rect x="116.4" y="1551" width="17.900000000000006" height="14" fill="#000"/>
<polygon points="118.8,1564 134,1556 138.6,1561 136,1564.5 138.6,1569.8 118.8,1569.8" fill="#000"/>
<rect x="211.2" y="1493.2" width="17.30000000000001" height="16.200000000000045" fill="#000"/>
<rect x="305.4" y="1550.3" width="16.600000000000023" height="14.5" fill="#000"/>
<rect x="400.6" y="1574.7" width="18.299999999999955" height="15.599999999999909" fill="#000"/>
<rect x="494.7" y="1594.4" width="15.600000000000023" height="15.599999999999909" fill="#000"/>
<polygon points="222,1328.7 230.8,1336.5 222,1344.3 213.2,1336.5" fill="#fff" stroke="#000" stroke-width="2" stroke-linejoin="miter"/>
<polygon points="316.2,1438.2 325.0,1446 316.2,1453.8 307.4,1446" fill="#fff" stroke="#000" stroke-width="2" stroke-linejoin="miter"/>
<polygon points="505.6,1479.8 515.0,1487.8 505.6,1495.8 496.20000000000005,1487.8" fill="#000" stroke="#000" stroke-width="2" stroke-linejoin="miter"/>
<polygon points="498.3,1488.6 500.9,1486.4 501.3,1489.4" fill="#fff"/>
<polygon points="317,1439.5 325.5,1446 321,1450" fill="#000"/>
<polygon points="222,1322.5 213.25,1337.4 230.55,1337.4" fill="#bcbcbc" stroke="#000" stroke-width="2.1" stroke-linejoin="miter"/>
<polygon points="316.3,1440.7 306.95,1456.9 326.25,1456.9" fill="#bcbcbc" stroke="#000" stroke-width="2.1" stroke-linejoin="miter"/>
<polygon points="411.8,1440.3 417,1446 423.4,1458.2 400.7,1458.2 406,1448" fill="#000"/><polygon points="411.9,1446.2 418.5,1455.7 405.1,1455.7" fill="#bcbcbc"/>
<polygon points="505.8,1486.1000000000001 496.15,1499.1000000000001 514.95,1499.1000000000001" fill="#bcbcbc" stroke="#000" stroke-width="2.1" stroke-linejoin="miter"/>
</g>
</svg>
</body></html>
